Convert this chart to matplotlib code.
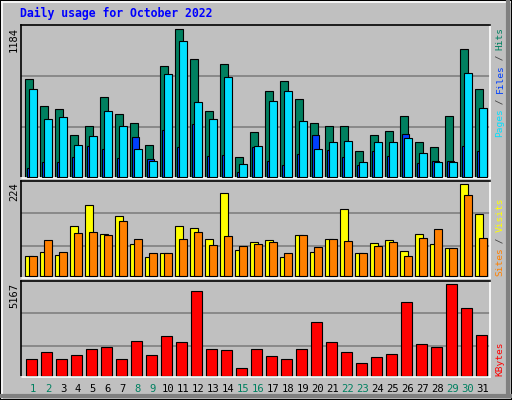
import numpy as np
import matplotlib
matplotlib.use("Agg")
import matplotlib.pyplot as plt
from matplotlib.patches import Rectangle
from matplotlib.lines import Line2D

days = list(range(1, 32))
hits = [782,565,541,332,405,638,501,429,252,887,1184,943,525,903,155,356,686,766,622,429,405,405,204,332,364,485,276,236,485,1023,702]
files = [702,461,477,252,324,525,405,220,123,822,1088,597,461,798,99,244,605,686,445,220,276,284,115,276,276,308,188,115,115,830,549]
pages = [67,115,115,155,244,220,147,316,139,372,236,421,163,171,35,236,123,91,179,332,212,155,91,204,163,340,107,123,123,244,204]
visits = [49,58,51,122,173,102,146,78,46,56,122,117,90,202,63,83,88,46,100,58,90,163,56,80,88,61,102,78,68,224,151]
sites = [49,88,58,105,107,100,134,90,56,56,90,107,75,97,73,78,83,56,100,71,90,85,56,73,83,49,93,114,68,197,93]
kbytes = [924,1320,924,1150,1490,1603,924,1943,1150,2225,1886,4772,1490,1433,415,1490,1094,924,1490,3018,1886,1320,698,1037,1207,4149,1773,1603,5167,3810,2282]
weekend = {1,2,8,9,15,16,22,23,29,30}

W, H = 512, 400
fig = plt.figure(figsize=(5.12, 4.0), dpi=100)
fig.patch.set_facecolor("#C0C0C0")
BG = "#C0C0C0"

def fr(x0, y0, x1, y1):
    return [x0 / W, 1 - y1 / H, (x1 - x0) / W, (y1 - y0) / H]

# outer bevel
fig.patches.append(Rectangle((0, 0), 1, 1, transform=fig.transFigure, fill=False, ec="black", lw=1.5))
fig.add_artist(Line2D([2/W, 2/W], [2/H, 1-2/H], color="white", lw=1.2))
fig.add_artist(Line2D([2/W, 1-2/W], [1-2/H, 1-2/H], color="white", lw=1.2))
fig.add_artist(Line2D([1-4/W, 1-4/W], [4/H, 1-2/H], color="#808080", lw=3))
fig.add_artist(Line2D([2/W, 1-2/W], [4/H, 4/H], color="#808080", lw=3))

x0p, x1p = 20.7, 490.0
slot = 15.0
xmax = (x1p - x0p) / slot
d = np.array(days) - 1.0

def panel(y0, y1, base, toppix, topval, grids):
    ax = fig.add_axes(fr(x0p, y0, x1p, y1))
    ax.set_facecolor(BG)
    ylim_top = topval * (base - y0) / (base - toppix)
    ylim_bot = -topval * (y1 - base) / (base - toppix)
    ax.set_xlim(0, xmax)
    ax.set_ylim(ylim_bot, ylim_top)
    for g in grids:
        ax.axhline(g, color="#808080", lw=1.2, zorder=0)
    ax.set_xticks([]); ax.set_yticks([])
    for s in ["left", "top"]:
        ax.spines[s].set_color("black")
    for s in ["right", "bottom"]:
        ax.spines[s].set_color("white")
    for s in ax.spines.values():
        s.set_linewidth(1.2)
    return ax

ec = dict(edgecolor="black", linewidth=0.8, align="edge")
ax1 = panel(25, 178, 176.7, 29.3, 1184, [397, 806])
ax1.bar(d + 4.6/slot, hits, 7.4/slot, color="#008060", **ec, zorder=2)
ax1.bar(d + 6.6/slot, pages, 7.0/slot, color="#0040FF", **ec, zorder=3)
ax1.bar(d + 8.6/slot, files, 7.4/slot, color="#00E0FF", **ec, zorder=4)

ax2 = panel(180.5, 277.5, 276.3, 184.3, 224, [73, 153])
ax2.bar(d + 4.6/slot, visits, 7.4/slot, color="#FFFF00", **ec, zorder=2)
ax2.bar(d + 8.6/slot, sites, 7.4/slot, color="#FF8000", **ec, zorder=3)

ax3 = panel(280.5, 377, 375.7, 284.3, 5167, [1662, 3528])
ax3.bar(d + 5.6/slot, kbytes, 10.4/slot, color="#FF0000", **ec, zorder=2)

mono = "DejaVu Sans Mono"
fig.text(20/W, 1 - 13/H, "Daily usage for October 2022", color="#0000FF", family=mono,
         weight="bold", fontsize=8.3, va="center", ha="left")

for lbl, ytop in [("1184", 27), ("224", 182), ("5167", 283)]:
    fig.text(14/W, 1 - ytop/H, lbl, rotation=90, family=mono, fontsize=7.5,
             va="top", ha="center", color="black")

def rlabel(parts, ybottom, step=5.45):
    k = 0
    for txt, col in parts:
        fig.text(500/W, 1 - (ybottom - k*step)/H, txt, rotation=90, family=mono,
                 fontsize=6.8, color=col, va="bottom", ha="center")
        k += len(txt)

rlabel([("Pages", "#00E0FF"), (" / ", "#404040"), ("Files", "#0040FF"),
        (" / ", "#404040"), ("Hits", "#008060")], 137)
rlabel([("Sites", "#FF8000"), (" / ", "#404040"), ("Visits", "#FFFF00")], 276)
rlabel([("KBytes", "#FF0000")], 376)

for i in days:
    xc = x0p + (i - 1) * slot + 12.3
    fig.text(xc/W, 1 - 389/H, str(i), family=mono, fontsize=7.6, ha="center", va="center",
             color="#008060" if i in weekend else "black")

fig.savefig("out.png", dpi=100, facecolor=fig.get_facecolor())
